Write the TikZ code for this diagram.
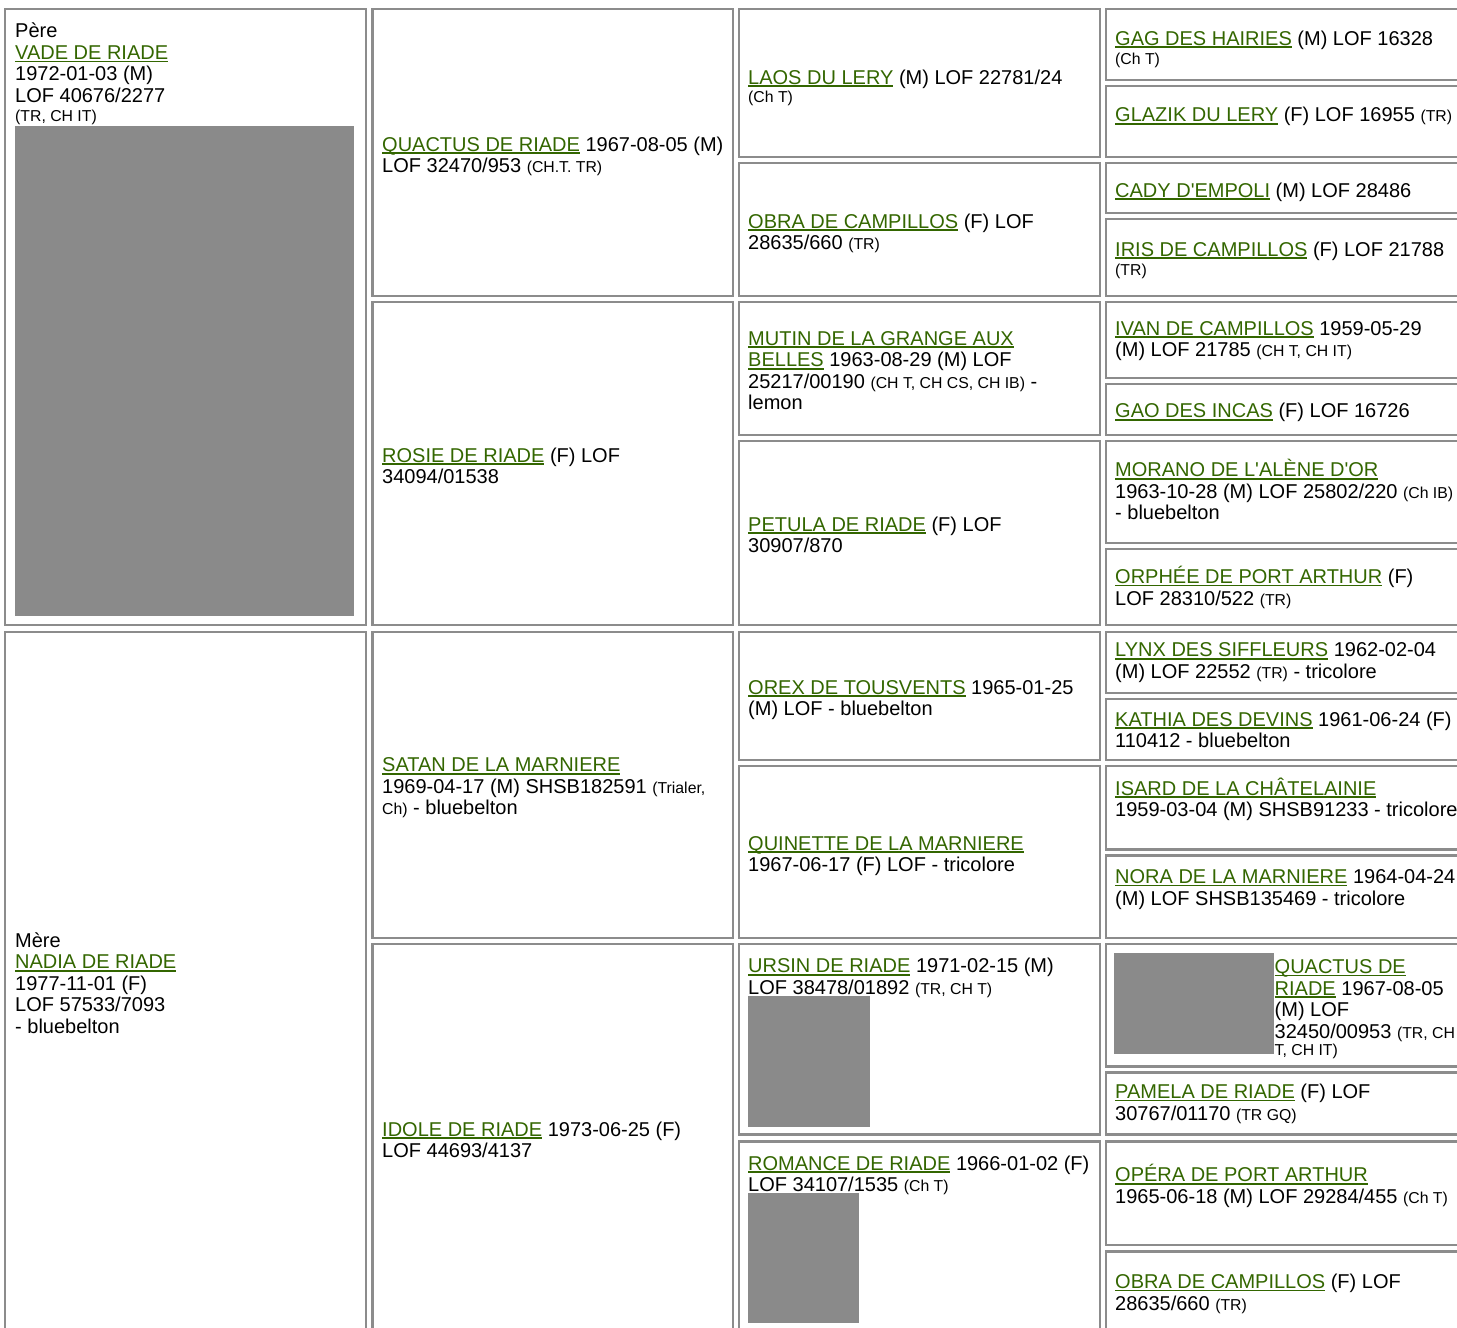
\documentclass[tikz,border=0pt]{standalone}
\usepackage{fontspec}
\setmainfont{Liberation Sans}[Ligatures=TeXOff]
\usepackage{xcolor}
\usepackage{tikz}
\definecolor{doggreen}{RGB}{51, 102, 0}
\definecolor{cellgray}{RGB}{140, 140, 140}
\definecolor{photogray}{RGB}{138, 138, 138}
\newcommand\lnstrut{\rule[-4.3pt]{0pt}{23.3pt}}
\newcommand\dog[1]{{\color{doggreen}\setbox0\hbox{#1}\rlap{\rule[-2.8pt]{\wd0}{1.6pt}}\box0}}
\newcommand\sm[1]{{\fontsize{15.8}{21.5}\selectfont #1}}

\begin{document}
\begin{tikzpicture}[x=1pt, y=-1pt,
    cell/.style={draw=cellgray, line width=2.2pt},
    photo/.style={fill=photogray},
    txt/.style={anchor=north west, yshift=19pt, inner sep=0pt, align=left,
        font={\fontsize{20}{21.5}\selectfont\lineskiplimit=-20pt}}]
                \useasboundingbox (0,0) rectangle (1457,1328);
                \clip (0,0) rectangle (1457,1328);

                % Parents
                \draw[cell] (5,9) rectangle (365.8,625);
                \draw[cell] (5,632) rectangle (365.8,1337);
                \node[txt] (pere) at (15,37.7) {\lnstrut Père\\ \dog{VADE DE RIADE}\\ 1972-01-03 (M)\\ LOF 40676/2277\\[-2.9pt] \sm{(TR, CH IT)}};
                \fill[photo] (15,126) rectangle (354,616);
                \node[txt] (mere) at (15,947) {\lnstrut Mère\\ \dog{NADIA DE RIADE}\\ 1977-11-01 (F)\\ LOF 57533/7093\\ - bluebelton};

                % Grandparents
                \draw[cell] (372.5,9) rectangle (733,296);
                \draw[cell] (372.5,302) rectangle (733,625);
                \draw[cell] (372.5,632) rectangle (733,938);
                \draw[cell] (372.5,944) rectangle (733,1337);
                \node[txt] (quactus) at (382,151) {\lnstrut\dog{QUACTUS DE RIADE} 1967-08-05 (M)\\ LOF 32470/953 \sm{(CH.T. TR)}};
                \node[txt] (rosie) at (382,462) {\lnstrut\dog{ROSIE DE RIADE} (F) LOF\\ 34094/01538};
                \node[txt] (satan) at (382,771.7) {\lnstrut\dog{SATAN DE LA MARNIERE}\\ 1969-04-17 (M) SHSB182591 \sm{(Trialer,}\\ \sm{Ch)} - bluebelton};
                \node[txt] (idole) at (382,1136) {\lnstrut\dog{IDOLE DE RIADE} 1973-06-25 (F)\\ LOF 44693/4137};

                % Great-grandparents
                \draw[cell] (739,9) rectangle (1100,157);
                \draw[cell] (739,163) rectangle (1100,296);
                \draw[cell] (739,302) rectangle (1100,435);
                \draw[cell] (739,441) rectangle (1100,625);
                \draw[cell] (739,632) rectangle (1100,760);
                \draw[cell] (739,766) rectangle (1100,938);
                \draw[cell] (739,944) rectangle (1100,1134.5);
                \draw[cell] (739,1141.5) rectangle (1100,1337);
                \node[txt] (laos) at (748,84) {\lnstrut\dog{LAOS DU LERY} (M) LOF 22781/24\\[-3.5pt] \sm{(Ch T)}};
                \node[txt] (obra) at (748,228) {\lnstrut\dog{OBRA DE CAMPILLOS} (F) LOF\\ 28635/660 \sm{(TR)}};
                \node[txt] (mutin) at (748,345) {\lnstrut\dog{MUTIN DE LA GRANGE AUX}\\ \dog{BELLES} 1963-08-29 (M) LOF\\ 25217/00190 \sm{(CH T, CH CS, CH IB)} -\\ lemon};
                \node[txt] (petula) at (748,531) {\lnstrut\dog{PETULA DE RIADE} (F) LOF\\ 30907/870};
                \node[txt] (orex) at (748,694) {\lnstrut\dog{OREX DE TOUSVENTS} 1965-01-25\\ (M) LOF - bluebelton};
                \node[txt] (quinette) at (748,850) {\lnstrut\dog{QUINETTE DE LA MARNIERE}\\ 1967-06-17 (F) LOF - tricolore};
                \node[txt] (ursin) at (748,972.7) {\lnstrut\dog{URSIN DE RIADE} 1971-02-15 (M)\\ LOF 38478/01892 \sm{(TR, CH T)}};
                \fill[photo] (748,996) rectangle (870,1127);
                \node[txt] (romance) at (748,1170) {\lnstrut\dog{ROMANCE DE RIADE} 1966-01-02 (F)\\ LOF 34107/1535 \sm{(Ch T)}};
                \fill[photo] (748,1193) rectangle (859,1323);

                % Great-great-grandparents
                \draw[cell] (1106,9) rectangle (1467,80);
                \draw[cell] (1106,86) rectangle (1467,157);
                \draw[cell] (1106,163) rectangle (1467,213);
                \draw[cell] (1106,219) rectangle (1467,296);
                \draw[cell] (1106,302) rectangle (1467,378);
                \draw[cell] (1106,384) rectangle (1467,435);
                \draw[cell] (1106,441) rectangle (1467,543);
                \draw[cell] (1106,549) rectangle (1467,625);
                \draw[cell] (1106,632) rectangle (1467,693);
                \draw[cell] (1106,699) rectangle (1467,760);
                \draw[cell] (1106,766) rectangle (1467,849.5);
                \draw[cell] (1106,855.5) rectangle (1467,938);
                \draw[cell] (1106,944) rectangle (1467,1066.5);
                \draw[cell] (1106,1072.5) rectangle (1467,1134.5);
                \draw[cell] (1106,1141.5) rectangle (1467,1245);
                \draw[cell] (1106,1251.5) rectangle (1467,1337);
                \node[txt] (gag) at (1115,45) {\lnstrut\dog{GAG DES HAIRIES} (M) LOF 16328\\[-2.2pt] \sm{(Ch T)}};
                \node[txt] (glazik) at (1115,121.7) {\lnstrut\dog{GLAZIK DU LERY} (F) LOF 16955 \sm{(TR)}};
                \node[txt] (cady) at (1115,197) {\lnstrut\dog{CADY D'EMPOLI} (M) LOF 28486};
                \node[txt] (iris) at (1115,256) {\lnstrut\dog{IRIS DE CAMPILLOS} (F) LOF 21788\\[-2.7pt] \sm{(TR)}};
                \node[txt] (ivan) at (1115,335) {\lnstrut\dog{IVAN DE CAMPILLOS} 1959-05-29\\ (M) LOF 21785 \sm{(CH T, CH IT)}};
                \node[txt] (gao) at (1115,417.7) {\lnstrut\dog{GAO DES INCAS} (F) LOF 16726};
                \node[txt] (morano) at (1115,476.7) {\lnstrut\dog{MORANO DE L'ALÈNE D'OR}\\ 1963-10-28 (M) LOF 25802/220 \sm{(Ch IB)}\\ - bluebelton};
                \node[txt] (orphee) at (1115,583.3) {\lnstrut\dog{ORPHÉE DE PORT ARTHUR} (F)\\ LOF 28310/522 \sm{(TR)}};
                \node[txt] (lynx) at (1115,656.7) {\lnstrut\dog{LYNX DES SIFFLEURS} 1962-02-04\\ (M) LOF 22552 \sm{(TR)} - tricolore};
                \node[txt] (kathia) at (1115,726) {\lnstrut\dog{KATHIA DES DEVINS} 1961-06-24 (F)\\ 110412 - bluebelton};
                \node[txt] (isard) at (1115,795) {\lnstrut\dog{ISARD DE LA CHÂTELAINIE}\\ 1959-03-04 (M) SHSB91233 - tricolore};
                \node[txt] (nora) at (1115,883.3) {\lnstrut\dog{NORA DE LA MARNIERE} 1964-04-24\\ (M) LOF SHSB135469 - tricolore};
                \fill[photo] (1114,953) rectangle (1274,1054);
                \node[txt] (quactusb) at (1274.5,973.3) {\lnstrut\dog{QUACTUS DE}\\ \dog{RIADE} 1967-08-05\\ (M) LOF\\ 32450/00953 \sm{(TR, CH}\\[-3.8pt] \sm{T, CH IT)}};
                \node[txt] (pamela) at (1115,1098.3) {\lnstrut\dog{PAMELA DE RIADE} (F) LOF\\ 30767/01170 \sm{(TR GQ)}};
                \node[txt] (opera) at (1115,1181.7) {\lnstrut\dog{OPÉRA DE PORT ARTHUR}\\ 1965-06-18 (M) LOF 29284/455 \sm{(Ch T)}};
                \node[txt] (obrab) at (1115,1288.3) {\lnstrut\dog{OBRA DE CAMPILLOS} (F) LOF\\ 28635/660 \sm{(TR)}};
\end{tikzpicture}
\end{document}
